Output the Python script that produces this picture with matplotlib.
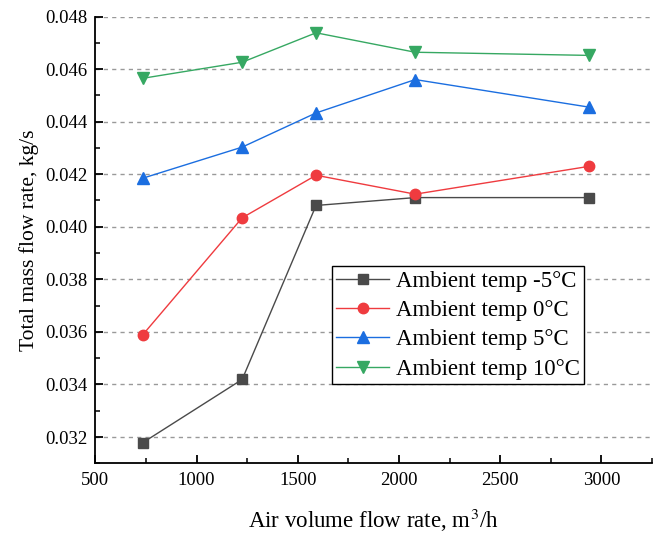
import numpy as np
from matplotlib import pyplot as plt
from matplotlib import rcParams
from matplotlib.ticker import MultipleLocator

rcParams['font.family'] = ['Liberation Serif', 'DejaVu Serif']
rcParams['mathtext.fontset'] = 'stix'
rcParams['xtick.direction'] = 'in'
rcParams['ytick.direction'] = 'in'
rcParams['axes.linewidth'] = 1.3

# Air volume flow rate, m3/h
air_flow = [735, 1225, 1590, 2080, 2940]

# Total mass flow rate, kg/s, one list per ambient temperature
flow_m5 = [0.03179, 0.03419, 0.04081, 0.04111, 0.04111]
flow_0 = [0.03590, 0.04034, 0.04196, 0.04124, 0.04230]
flow_5 = [0.04185, 0.04303, 0.04433, 0.04560, 0.04455]
flow_10 = [0.04565, 0.04626, 0.04738, 0.04664, 0.04652]

labels = ['Ambient temp -5°C', 'Ambient temp 0°C', 'Ambient temp 5°C', 'Ambient temp 10°C']
series = [flow_m5, flow_0, flow_5, flow_10]
colors = ['#4a4a4a', '#ef3b3f', '#1b6ee0', '#36a862']
markers = ['s', 'o', '^', 'v']
sizes = [7.2, 7.5, 8.5, 8.5]

fig = plt.figure(figsize=(6.59, 5.34), dpi=100)
ax = fig.add_axes([0.1448, 0.1324, 0.8446, 0.8367])

for y, lab, c, m, s in zip(series, labels, colors, markers, sizes):
    ax.plot(air_flow, y, color=c, marker=m, markersize=s, linewidth=1.0, label=lab)

ax.set_xlim(500, 3250)
ax.set_ylim(0.031, 0.048)
ax.xaxis.set_major_locator(MultipleLocator(500))
ax.xaxis.set_minor_locator(MultipleLocator(250))
ax.yaxis.set_major_locator(MultipleLocator(0.002))
ax.yaxis.set_minor_locator(MultipleLocator(0.001))
ax.yaxis.set_major_formatter(plt.FormatStrFormatter('%.3f'))
ax.tick_params(which='major', length=6, width=1.3, labelsize=13.5, pad=6)
ax.tick_params(which='minor', length=3.5, width=1.1)

ax.spines['top'].set_visible(False)
ax.spines['right'].set_visible(False)

# dashed horizontal grid at major y ticks
ax.yaxis.grid(True, linestyle=(0, (3, 3)), color='#999999', linewidth=1.0)
ax.set_axisbelow(True)

ax.set_xlabel('Air volume flow rate, m$^3$/h', fontsize=16.5, labelpad=13)
ax.set_ylabel('Total mass flow rate, kg/s', fontsize=15.5, labelpad=4)

leg = ax.legend(loc='lower left', bbox_to_anchor=(0.4245, 0.1768), fontsize=16.5,
                frameon=True, fancybox=False, edgecolor='black', framealpha=1,
                handlelength=2.3, borderaxespad=0, borderpad=0.2,
                labelspacing=0.36, handletextpad=0.3)
leg.get_frame().set_linewidth(1.0)

plt.savefig('out.png', dpi=100)
